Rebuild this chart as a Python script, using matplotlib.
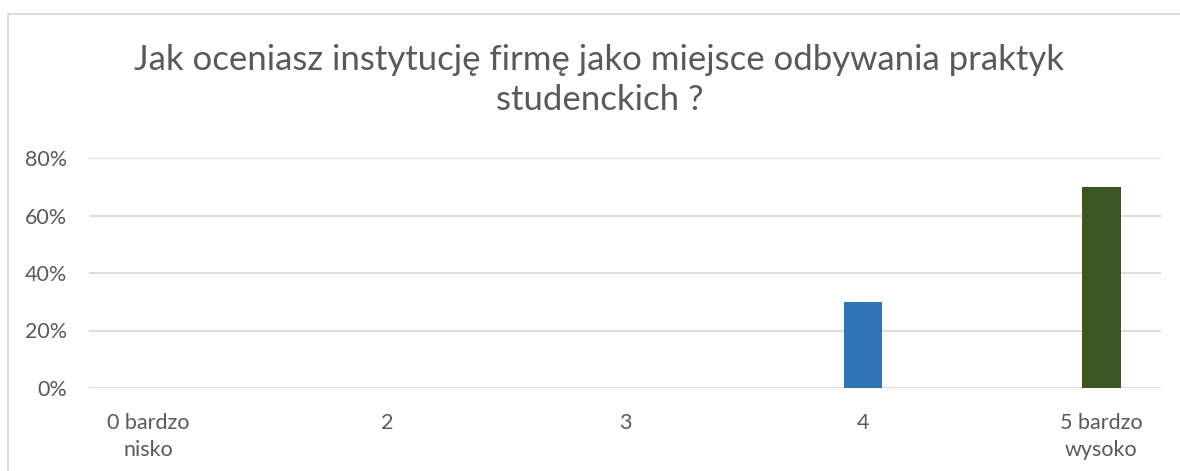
import matplotlib
matplotlib.use("Agg")
import matplotlib.pyplot as plt
from matplotlib.patches import Rectangle
from matplotlib.ticker import FuncFormatter

categories = ["0 bardzo\nnisko", "2", "3", "4", "5 bardzo\nwysoko"]
values = [0.0, 0.0, 0.0, 0.30, 0.70]
bar_colors = ["#2E75B6", "#2E75B6", "#2E75B6", "#2E75B6", "#385723"]
yticks = [0.0, 0.2, 0.4, 0.6, 0.8]
title = "Jak oceniasz instytucję firmę jako miejsce odbywania praktyk\nstudenckich ?"

W, H = 1180, 471
fig = plt.figure(figsize=(W / 100, H / 100), dpi=100)
plt.rcParams['font.family'] = ['Lato', 'DejaVu Sans']
gray = "#595959"

# chart border (cropped at right/bottom)
fig.patches.append(Rectangle((8 / W, -0.1), 1.2, 1 - 14 / H + 0.1, transform=fig.transFigure,
                             fill=False, edgecolor="#D9D9D9", linewidth=1.3))

ax = fig.add_axes([89 / W, 1 - 388 / H, (1161 - 89) / W, (388 - 158) / H])
x = list(range(len(categories)))
ax.bar(x, values, width=0.16, color=bar_colors, zorder=3)
ax.set_xlim(-0.25, len(categories) - 0.75)
ax.set_ylim(0, 0.8)
ax.set_yticks(yticks)
ax.yaxis.set_major_formatter(FuncFormatter(lambda v, p: f"{v*100:.0f}%"))
ax.set_xticks(x)
ax.set_xticklabels(categories, linespacing=1.45)
for s in ax.spines.values():
    s.set_visible(False)
ax.grid(axis="y", color="#D9D9D9", linewidth=1.3, zorder=0)
ax.tick_params(axis="both", length=0, colors=gray, labelsize=15.5)
ax.tick_params(axis="y", pad=16)
ax.tick_params(axis="x", pad=18)

fig.text(0.508, 1 - 44 / H, title, ha="center", va="top", fontsize=25, color=gray,
         linespacing=1.3)
fig.savefig("out.png", dpi=100)
